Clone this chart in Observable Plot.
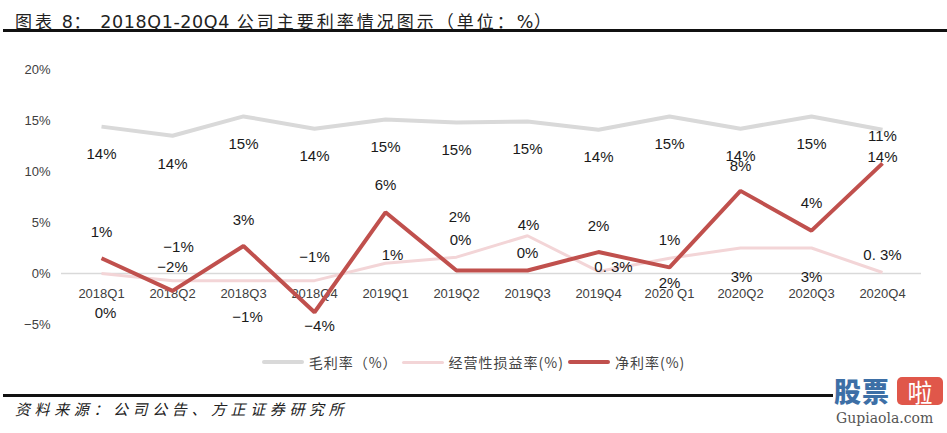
<!DOCTYPE html>
<html><head><meta charset="utf-8">
<script src="https://cdn.jsdelivr.net/npm/d3@7"></script>
<script src="https://cdn.jsdelivr.net/npm/@observablehq/plot@0.6"></script>
<style>
body{margin:0;background:#fff;}
#wrap{position:relative;width:947px;height:433px;overflow:hidden;background:#fff;font-family:"Liberation Sans",Arial,sans-serif;}
#title{position:absolute;left:3px;right:0;top:0;height:29px;border-bottom:3px solid #111;}
#title .t{position:absolute;left:12px;top:9px;font-family:"Noto Sans CJK SC",sans-serif;font-size:17px;line-height:24px;letter-spacing:3px;color:#222;white-space:nowrap;}
#title .n{font-family:"DejaVu Sans","Noto Sans CJK SC",sans-serif;font-size:17.5px;letter-spacing:0.6px;font-weight:500;}
#chart{position:absolute;left:0;top:32px;}
#legend{position:absolute;left:0;width:947px;top:352px;height:20px;display:flex;justify-content:center;align-items:center;font-family:"Noto Sans CJK SC",sans-serif;font-size:14px;letter-spacing:1px;color:#444;}
#legend .item{display:flex;align-items:center;margin:0 2px;}
#legend .sw{width:42px;margin-right:5px;border-radius:2px;}
#foot{position:absolute;left:3px;width:830px;top:394px;border-top:3px solid #111;}
#foot span{position:absolute;left:12px;top:1px;font-family:"Noto Sans CJK SC",sans-serif;font-size:15px;line-height:22px;letter-spacing:4.6px;font-style:italic;color:#222;white-space:nowrap;}
#wm{position:absolute;left:834px;top:376px;width:112px;height:56px;}
#wm .a{position:absolute;left:0;top:0;font-family:"Noto Sans CJK SC",sans-serif;font-weight:900;font-size:27px;line-height:30px;color:#3d6fa6;letter-spacing:1px;}
#wm .b{position:absolute;left:63px;top:1px;width:46px;height:28px;background:#e0574a;border-radius:5px;color:#fff;font-family:"Noto Sans CJK SC",sans-serif;font-size:25px;line-height:28px;text-align:center;}
#wm .c{position:absolute;left:2px;top:33px;font-family:"DejaVu Serif",serif;font-size:14px;line-height:18px;color:#555;}
</style></head>
<body>
<div id="wrap">
  <div id="title"><span class="t">图表 <span class="n">8</span>： <span class="n">2018Q1-20Q4</span> 公司主要利率情况图示（单位：<span class="n">%</span>）</span></div>
  <div id="chart"></div>
  <div id="legend"></div>
  <div id="foot"><span>资料来源：公司公告、方正证券研究所</span></div>
  <div id="wm"><div class="a">股票</div><div class="b">啦</div><div class="c">Gupiaola.com</div></div>
</div>
<script>
// ---- data ----
const quarters = ["2018Q1","2018Q2","2018Q3","2018Q4","2019Q1","2019Q2","2019Q3","2019Q4","2020 Q1","2020Q2","2020Q3","2020Q4"];
const grossMargin   = [14.4, 13.5, 15.4, 14.2, 15.1, 14.8, 14.9, 14.1, 15.4, 14.2, 15.4, 14.1];
const operatingRate = [0.0, -0.7, -0.7, -0.7, 1.0, 1.6, 3.7, 0.2, 1.5, 2.5, 2.5, 0.1];
const netMargin     = [1.5, -1.7, 2.7, -3.8, 6.0, 0.3, 0.3, 2.1, 0.6, 8.1, 4.2, 10.8];
const grossLabels     = ["14%","14%","15%","14%","15%","15%","15%","14%","15%","14%","15%","14%"];
const operatingLabels = ["0%","−1%","−1%","−1%","1%","2%","4%","0. 3%","2%","3%","3%","0. 3%"];
const netLabels       = ["1%","−2%","3%","−4%","6%","0%","0%","2%","1%","8%","4%","11%"];
const yTicks = [-5, 0, 5, 10, 15, 20];
const seriesNames = ["毛利率（%）", "经营性损益率(%)", "净利率(%)"];

// ---- layout (label placement offsets in px, [dx, dy]) ----
const grossOffsets = quarters.map(() => [0, 28]);
const operatingOffsets = [[4,40],[6,-33],[4,37],[0,-23],[7,-8],[3,-40],[1,-11],[15,-4],[0,25],[1,29],[0,29],[0,-17]];
const netOffsets = [[0,-26],[0,-24],[0,-26],[5,14],[0,-27],[4,-30],[0,-17],[0,-26],[0,-27],[0,-25],[0,-27],[0,-27]];
const colors = ["#d9d9d9", "#f3d5d7", "#c0504d"];
const widths = [4, 3, 4];

const series = [grossMargin, operatingRate, netMargin];
const labelSets = [grossLabels, operatingLabels, netLabels];
const offsetSets = [grossOffsets, operatingOffsets, netOffsets];

const rows = series.map((vals, s) => quarters.map((q, i) => ({q, v: vals[i], label: labelSets[s][i], s})));
const fmt = d => (d < 0 ? "−" : "") + Math.abs(d) + "%";

const marks = [
  Plot.ruleY([0], {stroke: "#d9d9d9", strokeWidth: 1.5}),
  Plot.text(quarters, {x: d => d, y: () => 0, dy: 20, text: d => d, fontSize: 13, fill: "#404040"}),
];
rows.forEach((r, s) => {
  marks.push(Plot.line(r, {x: "q", y: "v", stroke: colors[s], strokeWidth: widths[s], strokeLinejoin: "miter", strokeLinecap: "butt"}));
});
rows.forEach((r, s) => {
  r.forEach((d, i) => {
    const [dx, dy] = offsetSets[s][i];
    marks.push(Plot.text([d], {x: "q", y: "v", text: "label", dx, dy, fontSize: 15, fill: "#1a1a1a"}));
  });
});

const chart = Plot.plot({
  width: 947, height: 308,
  marginLeft: 61, marginRight: 26, marginTop: 37, marginBottom: 16,
  style: {fontFamily: "'Liberation Sans', Arial, sans-serif", fontSize: "13px", color: "#404040", background: "transparent"},
  x: {type: "point", domain: quarters, padding: 0.5, axis: null},
  y: {domain: [-5, 20], ticks: yTicks, tickFormat: fmt, tickSize: 0, tickPadding: 11, label: null},
  marks
});
document.getElementById("chart").appendChild(chart);

// legend
const lg = document.getElementById("legend");
seriesNames.forEach((n, s) => {
  const it = document.createElement("div"); it.className = "item";
  const sw = document.createElement("div"); sw.className = "sw";
  sw.style.height = widths[s] + "px"; sw.style.background = colors[s];
  const t = document.createElement("span"); t.textContent = n;
  it.appendChild(sw); it.appendChild(t); lg.appendChild(it);
});
</script>
</body></html>
